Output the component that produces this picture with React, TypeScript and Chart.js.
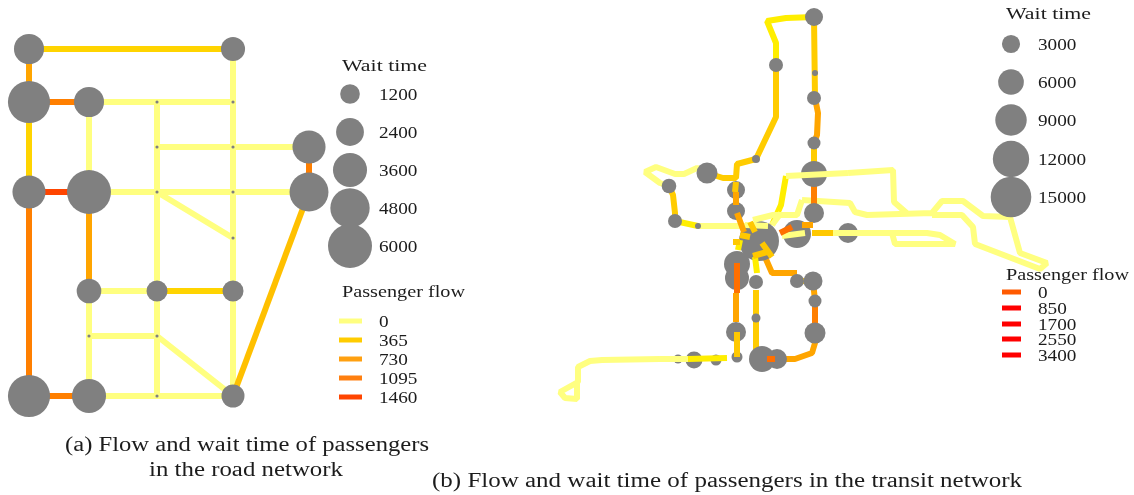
import React, { useEffect, useRef } from "react";
import { Chart, registerables } from "chart.js";

Chart.register(...registerables);

type Path = number[][];

// ---- colours of the flow tiers
const PALE = "#FFFF80";
const LEMON = "#FFEE00";
const GOLD = "#FFD400";
const AMBER = "#FFA500";
const ORANGE = "#FF7F00";
const DEEP = "#FF4500";
const NODE = "#808080";

// ---- (a) road network
const roadNodeX = [29, 233, 29, 89, 157, 233, 157, 233, 309, 29, 89, 157, 233, 309, 233, 89, 157, 233, 89, 157, 29, 89, 157, 233];
const roadNodeY = [49, 49, 102, 102, 102, 102, 147, 147, 147, 192, 192, 192, 192, 192, 238, 291, 291, 291, 336, 336, 396, 396, 396, 396];
const roadNodeWait = [2800, 1800, 5500, 2800, 30, 30, 30, 30, 3400, 3400, 6000, 30, 30, 4700, 30, 1880, 1370, 1370, 30, 30, 5500, 3600, 30, 1640];

const roadPale: Path[] = [
  [[233, 49], [233, 396]],
  [[89, 102], [233, 102]],
  [[89, 102], [89, 192]],
  [[157, 102], [157, 396]],
  [[157, 147], [309, 147]],
  [[89, 192], [309, 192]],
  [[157, 192], [233, 238]],
  [[89, 291], [157, 291]],
  [[89, 291], [89, 396]],
  [[89, 336], [157, 336]],
  [[157, 336], [233, 396]],
  [[89, 396], [233, 396]],
];
const roadGold: Path[] = [
  [[29, 49], [233, 49]],
  [[29, 102], [29, 192]],
  [[157, 291], [233, 291]],
];
const roadGold2: Path[] = [[[233, 396], [309, 192]]];
const roadAmber: Path[] = [
  [[29, 49], [29, 102]],
  [[89, 192], [89, 291]],
];
const roadOrange: Path[] = [
  [[29, 102], [89, 102]],
  [[29, 192], [29, 396]],
  [[29, 396], [89, 396]],
  [[309, 147], [309, 192]],
];
const roadDeep: Path[] = [[[29, 192], [89, 192]]];

// ---- (b) transit network
const transitNodeX = [814, 776, 815, 814, 814, 756, 707, 669, 675, 698, 736, 736, 759, 797, 848, 814, 737, 737, 736, 737, 716, 694, 678, 756, 756, 797, 813, 815, 815, 777, 762];
const transitNodeY = [17, 65, 73, 98, 143, 159, 173, 186, 221, 226, 190, 211, 241, 234, 233, 213, 264, 278, 332, 357, 360, 360, 359, 282, 318, 281, 281, 301, 333, 359, 359];
const transitNodeWait = [2950, 1780, 330, 1780, 1540, 580, 4000, 1940, 1780, 330, 2950, 2950, 14560, 7130, 3640, 3640, 6150, 5240, 3640, 1100, 1100, 2630, 740, 1780, 740, 1780, 3280, 1540, 4000, 3640, 6150];
const transitNodeExtraX = [814];
const transitNodeExtraY = [174];
const transitNodeExtraWait = [6150];

const transitPale: Path[] = [
  [[707, 173], [697, 168], [684, 174], [675, 174], [656, 167], [645, 172], [660, 183], [669, 186]],
  [[698, 226], [768, 226]],
  [[848, 173], [893, 170], [894, 202], [909, 215]],
  [[802, 200], [850, 203], [855, 212], [867, 215], [932, 213], [942, 201], [963, 201], [983, 216], [1010, 217], [1020, 253], [1047, 263], [1040, 269], [975, 244], [973, 227], [962, 215], [932, 215]],
  [[892, 233], [895, 244], [955, 244], [940, 235], [927, 233], [892, 233]],
  [[660, 359], [602, 360], [590, 361], [578, 367], [578, 382], [560, 392], [565, 398], [577, 399], [577, 382]],
];
const transitLemon: Path[] = [
  [[814, 17], [786, 18], [767, 21], [776, 43], [776, 65]],
  [[675, 221], [698, 226]],
  [[786, 176], [781, 205], [772, 225]],
];
const transitGold: Path[] = [
  [[776, 65], [776, 117], [756, 159], [737, 164], [736, 178], [723, 178], [707, 173]],
  [[669, 186], [673, 195], [675, 213], [675, 221]],
  [[814, 17], [815, 98]],
  [[814, 143], [814, 174]],
  [[813, 281], [797, 281]],
  [[756, 290], [756, 352]],
];
const transitAmber: Path[] = [
  [[815, 98], [818, 113], [817, 135], [814, 143]],
  [[813, 281], [815, 301]],
  [[765, 257], [772, 273], [797, 273]],
  [[815, 333], [815, 343], [812, 353], [795, 359], [777, 359]],
];
const transitOrange: Path[] = [
  [[814, 174], [814, 213]],
  [[815, 301], [815, 333]],
];

const overPale: Path[] = [
  [[786, 176], [848, 173]],
  [[782, 236], [805, 233]],
  [[833, 233], [892, 233]],
  [[753, 220], [773, 215], [797, 215], [802, 200]],
  [[745, 225], [768, 226]],
  [[772, 225], [781, 213]],
  [[688, 359], [660, 359]],
];
const overLemon: Path[] = [
  [[688, 359], [727, 358]],
  [[740, 240], [738, 250]],
  [[755, 257], [757, 273]],
];
const overGold: Path[] = [
  [[812, 233], [833, 233]],
  [[737, 332], [737, 357]],
  [[736, 182], [735, 192]],
  [[750, 222], [755, 232]],
  [[740, 235], [750, 237]],
  [[733, 242], [740, 242]],
  [[753, 256], [767, 252]],
  [[762, 243], [772, 257]],
];
const overAmber: Path[] = [
  [[736, 293], [736, 322]],
  [[737, 213], [744, 232]],
  [[736, 192], [736, 205]],
  [[802, 225], [813, 225]],
];
const overOrange: Path[] = [
  [[737, 263], [737, 293]],
  [[767, 359], [775, 359]],
  [[780, 233], [792, 227]],
];

// ---- legends
const roadWaitLegend = [1200, 2400, 3600, 4800, 6000];
const roadWaitLegendY = [94, 132, 170, 208, 246];
const roadWaitLegendX = 350;
const roadFlowLegend = [0, 365, 730, 1095, 1460];
const roadFlowLegendY = [321, 340, 359, 378, 397];
const roadFlowColors = [PALE, "#FFCC00", "#FFA010", "#FF7F10", DEEP];

const transitWaitLegend = [3000, 6000, 9000, 12000, 15000];
const transitWaitLegendY = [44, 82, 120, 159, 197];
const transitWaitLegendX = 1011;
const transitFlowLegend = [0, 850, 1700, 2550, 3400];
const transitFlowLegendY = [292, 308, 324, 339, 355];
const transitFlowColors = ["#FF5A00", "#FF0000", "#FF0000", "#FF0000", "#FF0000"];

// text: string, x, baseline y, target width, font size
const captionTexts: [string, number, number, number, number][] = [
  ["Wait time", 342, 71, 85, 17],
  ["Passenger flow", 342, 297, 123, 17],
  ["(a) Flow and wait time of passengers", 65, 451, 364, 20],
  ["in the road network", 149, 476, 194, 20],
  ["(b) Flow and wait time of passengers in the transit network", 432, 487, 590, 20],
  ["Wait time", 1006, 19, 85, 17],
  ["Passenger flow", 1006, 280, 123, 17],
];

const roadRadius = (w: number) => 22 * Math.sqrt(w / 6000);
const transitRadius = (w: number) => 20.3 * Math.sqrt(w / 15000);

function flatten(paths: Path[]) {
  const out: { x: number; y: number | null }[] = [];
  paths.forEach((p) => {
    p.forEach(([x, y]) => out.push({ x, y }));
    out.push({ x: p[p.length - 1][0], y: null });
  });
  return out;
}

const lineSet = (paths: Path[], color: string, order: number, width = 6) => ({
  type: "line" as const,
  data: flatten(paths),
  borderColor: color,
  borderWidth: width,
  borderCapStyle: "butt" as const,
  borderJoinStyle: "bevel" as const,
  pointRadius: 0,
  spanGaps: false,
  tension: 0,
  fill: false,
  clip: false as const,
  order,
});

const nodeSet = (xs: number[], ys: number[], radii: number[], order: number) => ({
  type: "scatter" as const,
  data: xs.map((x, i) => ({ x, y: ys[i] })),
  backgroundColor: NODE,
  borderWidth: 0,
  pointRadius: radii,
  clip: false as const,
  order,
});

const textPlugin = {
  id: "texts",
  afterDraw(chart: any) {
    const { ctx, scales } = chart;
    const put = (s: string, x: number, y: number, w: number, size: number) => {
      ctx.save();
      ctx.font = `${size}px "Liberation Serif"`;
      ctx.fillStyle = "#1c1c1c";
      ctx.textBaseline = "alphabetic";
      ctx.textAlign = "left";
      const m = ctx.measureText(s).width;
      ctx.translate(scales.x.getPixelForValue(x), scales.y.getPixelForValue(y));
      ctx.scale(w / m, 1);
      ctx.fillText(s, 0, 0);
      ctx.restore();
    };
    captionTexts.forEach(([s, x, y, w, size]) => put(s, x, y, w, size));
    const digitW = 9.6;
    const labels = (vals: number[], ys: number[], x: number) =>
      vals.forEach((v, i) => put(String(v), x, ys[i] + 5.5, String(v).length * digitW, 17));
    labels(roadWaitLegend, roadWaitLegendY, 379);
    labels(roadFlowLegend, roadFlowLegendY, 379);
    labels(transitWaitLegend, transitWaitLegendY, 1038);
    labels(transitFlowLegend, transitFlowLegendY, 1038);
  },
};

export default function App() {
  const ref = useRef<HTMLCanvasElement>(null);
  useEffect(() => {
    const legendLines = (ys: number[], colors: string[], x0: number, x1: number) =>
      ys.map((y, i) => lineSet([[[x0, y], [x1, y]]], colors[i], 1, 5));
    const chart = new Chart(ref.current as HTMLCanvasElement, {
      data: {
        datasets: [
          // road: nodes above edges
          nodeSet(roadNodeX, roadNodeY, roadNodeWait.map(roadRadius), 2),
          lineSet(roadPale, PALE, 6),
          lineSet(roadGold, GOLD, 5),
          lineSet(roadGold2, "#FFC000", 5),
          lineSet(roadAmber, AMBER, 5),
          lineSet(roadOrange, ORANGE, 5),
          lineSet(roadDeep, DEEP, 5),
          // transit: most edges under the nodes, through lines above them
          lineSet(transitPale, PALE, 9),
          lineSet(transitLemon, LEMON, 8),
          lineSet(transitGold, "#FFCC00", 8),
          lineSet(transitAmber, AMBER, 8),
          lineSet(transitOrange, ORANGE, 8),
          nodeSet(transitNodeX, transitNodeY, transitNodeWait.map(transitRadius), 7),
          nodeSet(transitNodeExtraX, transitNodeExtraY, transitNodeExtraWait.map(transitRadius), 7),
          lineSet(overPale, PALE, 4),
          lineSet(overLemon, LEMON, 3.5),
          lineSet(overGold, "#FFC800", 3),
          lineSet(overAmber, AMBER, 2.5),
          lineSet(overOrange, "#FF6F00", 2),
          // legends
          nodeSet(roadWaitLegend.map(() => roadWaitLegendX), roadWaitLegendY, roadWaitLegend.map(roadRadius), 1),
          nodeSet(transitWaitLegend.map(() => transitWaitLegendX), transitWaitLegendY, transitWaitLegend.map(transitRadius), 1),
          ...legendLines(roadFlowLegendY, roadFlowColors, 339, 362),
          ...legendLines(transitFlowLegendY, transitFlowColors, 1002, 1021),
        ] as any,
      },
      options: {
        animation: false,
        responsive: false,
        devicePixelRatio: 1,
        layout: { padding: 0, autoPadding: false },
        events: [],
        plugins: { legend: { display: false }, tooltip: { enabled: false }, title: { display: false } },
        scales: {
          x: { type: "linear", display: false, min: 0, max: 1134 },
          y: { type: "linear", display: false, min: 0, max: 495, reverse: true },
        },
      },
      plugins: [textPlugin],
    } as any);
    return () => chart.destroy();
  }, []);
  return (
    <canvas
      ref={ref}
      width={1134}
      height={495}
      style={{ position: "fixed", left: 0, top: 0, width: 1134, height: 495, background: "#fff" }}
    />
  );
}
